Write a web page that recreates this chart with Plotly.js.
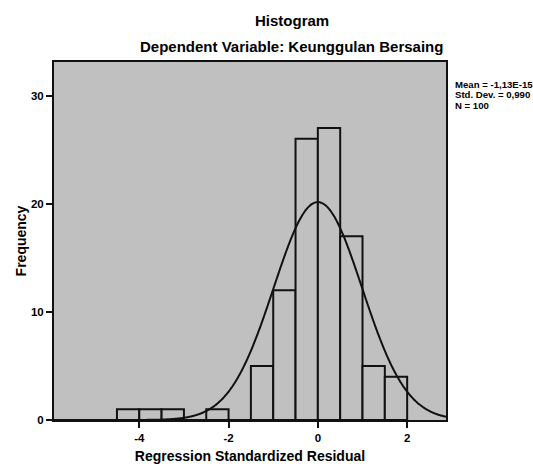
<!DOCTYPE html>
<html>
<head>
<meta charset="utf-8">
<script src="https://cdn.plot.ly/plotly-3.0.1.min.js"></script>
<style>html,body{margin:0;padding:0;background:#fff;}#chart{width:533px;height:464px;}</style>
</head>
<body>
<div id="chart"></div>
<script>
// Histogram bins (centers, width 0.5) and frequencies
const binCenters = [-4.25, -3.75, -3.25, -2.75, -2.25, -1.75, -1.25, -0.75, -0.25, 0.25, 0.75, 1.25, 1.75];
const frequencies = [1, 1, 1, 0, 1, 0, 5, 12, 26, 27, 17, 5, 4];
const binWidth = 0.5;
// Stated statistics
const statMean = -1.13e-15;
const statSD = 0.990;
const statN = 100;
const statLines = ['Mean = -1,13E-15', 'Std. Dev. = 0,990', 'N = 100'];
const xTicks = [-4, -2, 0, 2];
const yTicks = [0, 10, 20, 30];

// Normal curve implied by the stated mean, SD and N (scaled to bin width)
const curveX = [], curveY = [];
for (let i = 0; i <= 400; i++) {
  const x = -5.91 + i * (2.87 + 5.91) / 400;
  curveX.push(x);
  const z = (x - statMean) / statSD;
  curveY.push(statN * binWidth / (statSD * Math.sqrt(2 * Math.PI)) * Math.exp(-0.5 * z * z));
}

const gray = '#c0c0c0';
const bold = {family: 'Liberation Sans, Arial, sans-serif', weight: 'bold', color: '#000'};

const traces = [
  {
    type: 'bar', x: binCenters, y: frequencies, width: binWidth,
    marker: {color: gray, line: {color: '#111', width: 2}},
    hoverinfo: 'skip'
  },
  {
    type: 'scatter', mode: 'lines', x: curveX, y: curveY,
    line: {color: '#111', width: 2, shape: 'spline'},
    hoverinfo: 'skip'
  }
];

const statAnn = statLines.map((t, i) => ({
  text: t, xref: 'paper', yref: 'paper', x: 1.018, y: (420.5 - (84.5 + 10.3 * i)) / 358.5,
  xanchor: 'left', yanchor: 'middle', align: 'left', showarrow: false,
  font: Object.assign({size: 9.6}, bold)
}));

const layout = {
  width: 533, height: 464,
  margin: {l: 54, r: 87, t: 62, b: 44},
  paper_bgcolor: '#fff',
  plot_bgcolor: gray,
  showlegend: false,
  bargap: 0,
  xaxis: {
    range: [-5.91, 2.87], tickvals: xTicks, ticktext: xTicks.map(String),
    showgrid: false, zeroline: false,
    showline: true, linecolor: '#111', linewidth: 2, mirror: true,
    ticks: 'outside', ticklen: 6, tickwidth: 2, tickcolor: '#111',
    tickfont: Object.assign({size: 11.5}, bold),
    title: {text: 'Regression Standardized Residual', font: Object.assign({size: 14}, bold), standoff: 9}
  },
  yaxis: {
    range: [0, 33.1], tickvals: yTicks, ticktext: yTicks.map(String),
    showgrid: false, zeroline: false,
    showline: true, linecolor: '#111', linewidth: 2, mirror: true,
    ticks: 'outside', ticklen: 6, tickwidth: 2, tickcolor: '#111',
    tickfont: Object.assign({size: 11.5}, bold),
    title: {text: 'Frequency', font: Object.assign({size: 14}, bold), standoff: 1}
  },
  annotations: [
    {text: 'Histogram', xref: 'paper', yref: 'paper', x: 0.607, y: 1.117,
     xanchor: 'center', yanchor: 'middle', showarrow: false, font: Object.assign({size: 15}, bold)},
    {text: 'Dependent Variable: Keunggulan Bersaing', xref: 'paper', yref: 'paper', x: 0.607, y: 1.042,
     xanchor: 'center', yanchor: 'middle', showarrow: false, font: Object.assign({size: 15}, bold)}
  ].concat(statAnn)
};

Plotly.newPlot('chart', traces, layout, {staticPlot: true, displayModeBar: false});
</script>
</body>
</html>
